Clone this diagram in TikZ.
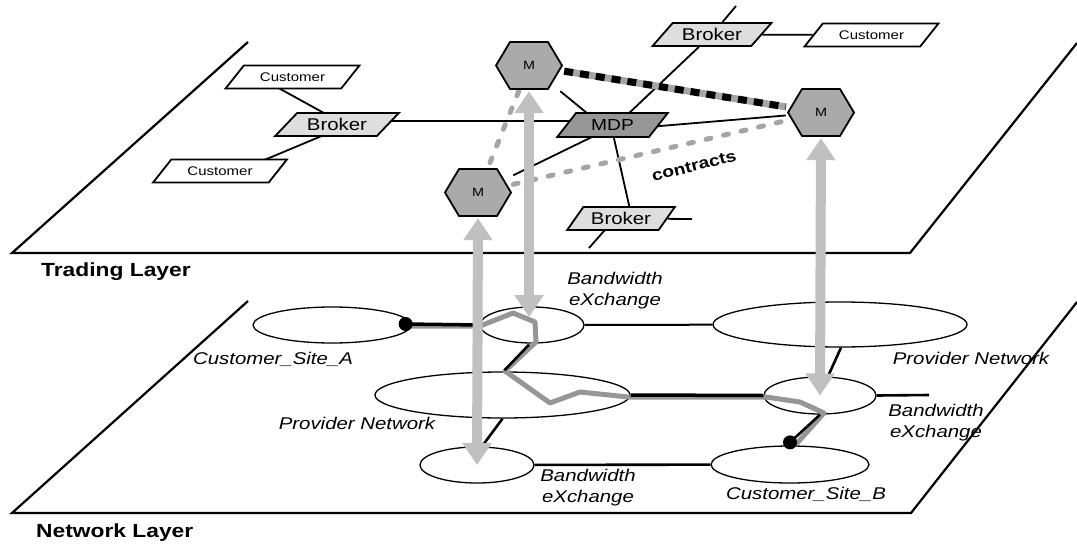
\documentclass[tikz,border=0pt]{standalone}
\usepackage{fontspec}
\setmainfont{Liberation Sans}[FakeStretch=1.2]
\usetikzlibrary{shapes.geometric,arrows.meta,calc}
\pgfdeclarelayer{back}
\pgfdeclarelayer{links}
\pgfdeclarelayer{front}
\pgfsetlayers{back,links,main,front}
\definecolor{brokerfill}{RGB}{222,222,222}
\definecolor{mdpfill}{RGB}{150,150,150}
\definecolor{mfill}{RGB}{170,170,170}
\definecolor{arrowgray}{RGB}{192,192,192}
\definecolor{routegray}{RGB}{150,150,150}
\definecolor{dashgray}{RGB}{165,165,165}

\begin{document}
\begin{tikzpicture}[x=1pt,y=-1pt,
  plane/.style={draw=black, line width=2.2pt, line join=miter},
  para/.style={trapezium, trapezium stretches=true, draw=black, line width=1.8pt,
    inner sep=0pt, line join=miter},
  custbox/.style={para, fill=white, minimum width=135pt, minimum height=23pt,
    trapezium left angle=36, trapezium right angle=144,
    font=\fontsize{12.5}{14}\selectfont},
  brokerbox/.style={para, fill=brokerfill, minimum height=23pt,
    font=\fontsize{17}{20}\selectfont},
  mdpbox/.style={para, fill=mdpfill, minimum width=111pt, minimum height=24pt,
    trapezium left angle=45, trapezium right angle=135,
    font=\fontsize{16}{19}\selectfont},
  mhex/.style={minimum width=70pt, minimum height=51pt, inner sep=0pt,
    font=\fontsize{12}{14}\selectfont,
    path picture={
      \path[fill=mfill, draw=black, line width=1.8pt, line join=round]
        ([xshift=2pt]path picture bounding box.west)
        -- ([xshift=16pt,yshift=-2pt]path picture bounding box.north west)
        -- ([xshift=-16pt,yshift=-2pt]path picture bounding box.north east)
        -- ([xshift=-2pt]path picture bounding box.east)
        -- ([xshift=-16pt,yshift=2pt]path picture bounding box.south east)
        -- ([xshift=16pt,yshift=2pt]path picture bounding box.south west)
        -- cycle;}},
  netell/.style={ellipse, draw=black, fill=white, line width=1.3pt, inner sep=0pt},
  netlbl/.style={font=\itshape\fontsize{17}{21}\selectfont, align=center, inner sep=0pt},
  layerlbl/.style={font=\bfseries\fontsize{19}{22}\selectfont, anchor=west, inner sep=0pt},
  linkT/.style={draw=black, line width=1.8pt},
  linkN/.style={draw=black, line width=2.6pt},
  routeline/.style={draw=routegray, line width=5pt, line join=round},
  contractline/.style={draw=dashgray, line width=5pt, line cap=round,
    dash pattern=on 5pt off 13pt},
  updown/.style={draw=arrowgray, line width=10pt,
    {Triangle[width=28pt,length=22pt]}-{Triangle[width=28pt,length=22pt]}}
]
\useasboundingbox (0,0) rectangle (1077,544);

% the two layer planes
\begin{pgfonlayer}{back}
  \draw[plane] (248,42) -- (12,253) -- (910,253) -- (1077,43);
  \draw[plane] (248,301) -- (12,513) -- (911,513) -- (1077,302);
\end{pgfonlayer}

\node[layerlbl] (tradinglbl) at (41,271.5) {Trading Layer};
\node[layerlbl] (networklbl) at (36,533) {Network Layer};

% trading layer
\node[custbox] (custTL) at (292.5,77) {Customer};
\node[custbox] (custBL) at (220,171) {Customer};
\node[custbox] (custTR) at (871.5,35) {Customer};
\node[brokerbox, minimum width=124pt, trapezium left angle=37, trapezium right angle=143]
  (brokerL) at (337,124.5) {Broker};
\node[brokerbox, minimum width=120pt, trapezium left angle=39, trapezium right angle=141]
  (brokerTR) at (712,34.5) {Broker};
\node[brokerbox, minimum width=108pt, trapezium left angle=44, trapezium right angle=136]
  (brokerB) at (621,218.5) {Broker};
\node[mdpbox] (mdp) at (612.5,125) {MDP};
\node[mhex] (mtop) at (529,65.5) {M};
\node[mhex] (mleft) at (478,192.5) {M};
\node[mhex] (mright) at (821,112.5) {M};

\coordinate (trUp) at (736,6);
\coordinate (bBright) at (692,219);
\coordinate (bBdown) at (589,248);

% network layer
\node[netell, minimum width=158pt, minimum height=36pt] (csA) at (332,325) {};
\node[netell, minimum width=104pt, minimum height=36pt] (bxT) at (532,325) {};
\node[netell, minimum width=254pt, minimum height=45pt] (pnR) at (840,324.5) {};
\node[netell, minimum width=255pt, minimum height=46pt] (pnM) at (502.5,395) {};
\node[netell, minimum width=112pt, minimum height=37pt] (bxR) at (820,395.5) {};
\node[netell, minimum width=114pt, minimum height=36pt] (bxB) at (477,465) {};
\node[netell, minimum width=158pt, minimum height=37pt] (csB) at (790,464.5) {};

\coordinate (bxRstub) at (929,395);
\coordinate (dotA) at ($(csA.east)+(-6,-1)$);
\coordinate (dotB) at ($(csB.north)+(0,-3)$);

\node[netlbl] (lblCSA) at (273,359) {Customer\_Site\_A};
\node[netlbl] (lblPNM) at (357,423) {Provider Network};
\node[netlbl] (lblBXT) at (615,290.5) {Bandwidth\\eXchange};
\node[netlbl] (lblPNR) at (971,358) {Provider Network};
\node[netlbl] (lblBXR) at (936,423) {Bandwidth\\eXchange};
\node[netlbl] (lblBXB) at (588,487.5) {Bandwidth\\eXchange};
\node[netlbl] (lblCSB) at (806,494) {Customer\_Site\_B};
\node[font=\bfseries\fontsize{16}{19}\selectfont, rotate=14, inner sep=0pt]
  (lblContracts) at (694,166) {contracts};

% connectors drawn behind the boxes
\begin{pgfonlayer}{links}
  \draw[linkT] ($(custTL)+(-28.5,3)$) -- ($(brokerL)+(-4,-6.5)$);
  \draw[linkT] ($(brokerL)+(-1,5.5)$) -- ($(custBL)+(30,-5)$);
  \draw[linkT] ($(brokerL)+(0,-3.5)$) -- ($(mdp)+(0,-4)$);
  \draw[linkT] (mtop) -- ($(mdp)+(-11,0)$);
  \draw[linkT] (mleft) -- ($(mdp)+(4,0)$);
  \draw[linkT] ($(mdp)+(0,5)$) -- (mright);
  \draw[linkT] ($(mdp)+(4,0)$) -- (brokerTR) -- (trUp);
  \draw[linkT] (brokerTR) -- (custTR);
  \draw[linkT] ($(mdp)+(-1.5,0)$) -- ($(brokerB)+(11,0)$);
  \draw[linkT] (brokerB) -- (bBright);
  \draw[linkT] ($(brokerB)+(-6,0)$) -- (bBdown);
  % manager to manager link
  \draw[line width=7pt, dashgray] (mtop) -- (mright);
  \draw[line width=7pt, black, dash pattern=on 9pt off 7pt] (mtop) -- (mright);
  % contracts between managers
  \draw[contractline] (mtop) -- (mleft) -- (mright);
  % network links
  \draw[linkN, line width=2pt] (bxT) -- (pnR);
  \draw[linkN] ($(pnR.south)+(1,0)$) -- ($(bxR.north)+(8,0)$);
  \draw[linkN] (bxR.east) -- (bxRstub);
  \draw[linkN] (pnM.south) -- ($(bxB.north)+(5,0)$);
  \draw[linkN] (bxB) -- (csB);
\end{pgfonlayer}

% the reserved path and the manager arrows
\begin{pgfonlayer}{front}
  \draw[routeline] ($(dotA)+(0,2)$) -- (480,326) -- (513,313) -- (535,322) -- (536,342)
    -- (505,371) -- (550,403) -- (580,392) -- (628,397) -- (766,397) -- (800,402)
    -- (824,413) -- ($(dotB)+(6,2)$);
  \draw[linkN, line width=3.5pt] (dotA) -- (bxT.west);
  \draw[linkN] ($(bxT.south)+(-3,1)$) -- ($(pnM.north)+(2,-1)$);
  \draw[linkN, line width=3.5pt] (pnM.east) -- (bxR.west);
  \draw[linkN] (bxR.south) -- (dotB);
  \fill[black] (dotA) circle[radius=7pt];
  \fill[black] (dotB) circle[radius=7pt];
  \draw[updown] (mleft.south) -- (bxB.center);
  \draw[updown] (mtop.south) -- ($(mtop.south |- bxT.center)+(0,-8)$);
  \draw[updown] (mright.south) -- (bxR.center);
\end{pgfonlayer}
\end{tikzpicture}
\end{document}
